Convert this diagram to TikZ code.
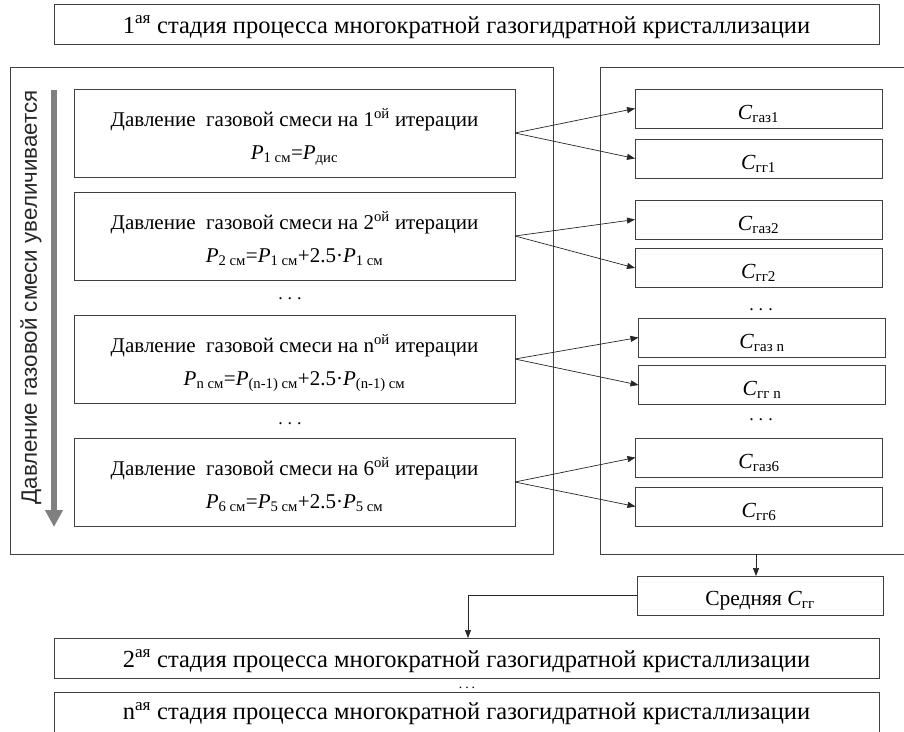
\documentclass[tikz,border=0pt]{standalone}
\usepackage{fontspec}
\setmainfont{Liberation Serif}
\newfontfamily\arialf{Liberation Sans}
\usetikzlibrary{arrows.meta,calc}
\newcommand\mysub[1]{\textsubscript{#1}}
\newcommand\Pv{\textit{P}}
\newcommand\Cv{\textit{C}}
\newcommand\spdots{.\hspace{5pt}.\hspace{5pt}.}
\begin{document}
\begin{tikzpicture}[x=1pt,y=-1pt,
  every node/.style={inner sep=0pt,outer sep=0pt},
  frame/.style={draw=black!75,line width=0.8pt},
  stagebox/.style={frame,minimum width=825pt,minimum height=40pt},
  stagetext/.style={anchor=base,font=\fontsize{24.5}{26}\selectfont},
  pbox/.style={frame,minimum width=441pt,minimum height=88pt},
  ptext/.style={anchor=base,font=\fontsize{21}{24}\selectfont},
  cbox/.style={frame,minimum width=247pt,minimum height=39pt},
  ctext/.style={anchor=base,font=\fontsize{21.5}{24}\selectfont},
  conn/.style={draw=black!85,line width=0.7pt,-{Triangle[length=8pt,width=6pt]}},
  dotsn/.style={anchor=base,font=\fontsize{18}{18}\selectfont,text height=3pt,text depth=0pt},
]
\useasboundingbox (0,0) rectangle (904,731);
\clip (0,0) rectangle (904,731);
% top stage
\node[stagebox] (s1) at (466.5,24) {};
\node[stagetext] (s1t) at ($(s1.center)+(0,9)$) {1\textsuperscript{ая} стадия процесса многократной газогидратной кристаллизации};
% outer frames
\node[frame,minimum width=543pt,minimum height=487pt] (outL) at (281.5,310.5) {};
\node[frame,minimum width=320pt,minimum height=487pt] (outR) at (760,310.5) {};
% vertical label and arrow
\node[rotate=90,font=\arialf\fontsize{22.3}{24}\selectfont,text=black!85] (vt) at (31,297.5) {Давление газовой смеси увеличивается};
\coordinate (ga) at (54,90);
\coordinate (gb) at (54,527);
\draw[line width=6.5pt,draw=black!50,-{Triangle[length=17pt,width=17pt]}] (ga) -- (gb);
% pressure boxes
\node[pbox] (b1) at (294.5,133) {};
\node[ptext] (b1a) at ($(b1.center)+(0,-7)$) {Давление\ \ газовой смеси на 1\textsuperscript{ой} итерации};
\node[ptext] (b1b) at ($(b1.center)+(0,26)$) {\Pv\mysub{1 см}=\Pv\mysub{дис}};
\node[pbox] (b2) at (294.5,236) {};
\node[ptext] (b2a) at ($(b2.center)+(0,-7)$) {Давление\ \ газовой смеси на 2\textsuperscript{ой} итерации};
\node[ptext] (b2b) at ($(b2.center)+(0,26)$) {\Pv\mysub{2 см}=\Pv\mysub{1 см}+2.5·\Pv\mysub{1 см}};
\node[pbox] (bn) at (294.5,359) {};
\node[ptext] (bna) at ($(bn.center)+(0,-7)$) {Давление\ \ газовой смеси на n\textsuperscript{ой} итерации};
\node[ptext] (bnb) at ($(bn.center)+(0,26)$) {\Pv\mysub{n см}=\Pv\mysub{(n-1) см}+2.5·\Pv\mysub{(n-1) см}};
\node[pbox] (b6) at (294.5,482) {};
\node[ptext] (b6a) at ($(b6.center)+(0,-7)$) {Давление\ \ газовой смеси на 6\textsuperscript{ой} итерации};
\node[ptext] (b6b) at ($(b6.center)+(0,26)$) {\Pv\mysub{6 см}=\Pv\mysub{5 см}+2.5·\Pv\mysub{5 см}};
\node[dotsn] (dl1) at (290,299) {\spdots};
\node[dotsn] (dl2) at (290,424) {\spdots};
% concentration boxes
\node[cbox] (g1) at (758.5,108.5) {};
\node[ctext] (g1t) at ($(g1.center)+(0,10.5)$) {\Cv\mysub{газ1}};
\node[cbox] (h1) at (758.5,158.5) {};
\node[ctext] (h1t) at ($(h1.center)+(0,10.5)$) {\Cv\mysub{гг1}};
\node[cbox] (g2) at (758.5,219.5) {};
\node[ctext] (g2t) at ($(g2.center)+(0,10.5)$) {\Cv\mysub{газ2}};
\node[cbox] (h2) at (758.5,268) {};
\node[ctext] (h2t) at ($(h2.center)+(0,10.5)$) {\Cv\mysub{гг2}};
\node[cbox] (gn) at (762,337.5) {};
\node[ctext] (gnt) at ($(gn.center)+(0,10.5)$) {\Cv\mysub{газ n}};
\node[cbox] (hn) at (762,385) {};
\node[ctext] (hnt) at ($(hn.center)+(0,10.5)$) {\Cv\mysub{гг n}};
\node[cbox] (g6) at (759,457.5) {};
\node[ctext] (g6t) at ($(g6.center)+(0,10.5)$) {\Cv\mysub{газ6}};
\node[cbox] (h6) at (759,506.5) {};
\node[ctext] (h6t) at ($(h6.center)+(0,10.5)$) {\Cv\mysub{гг6}};
\node[dotsn] (dr1) at (761,310) {\spdots};
\node[dotsn] (dr2) at (761,420) {\spdots};
% connectors
\draw[conn] (b1.east) -- (g1.west);
\draw[conn] (b1.east) -- (h1.west);
\draw[conn] (b2.east) -- (g2.west);
\draw[conn] (b2.east) -- (h2.west);
\draw[conn] (bn.east) -- (gn.west);
\draw[conn] (bn.east) -- (hn.west);
\draw[conn] (b6.east) -- (g6.west);
\draw[conn] (b6.east) -- (h6.west);
% average
\node[frame,minimum width=246pt,minimum height=39pt] (avg) at (760,595.5) {};
\node[ctext] (avgt) at ($(avg.center)+(0,9.5)$) {Средняя \Cv\mysub{гг}};
\coordinate (m1) at (756,554);
\draw[conn] (m1) -- (m1 |- avg.north);
% lower stages
\node[stagebox] (s2) at (466.5,658) {};
\node[stagetext] (s2t) at ($(s2.center)+(0,9)$) {2\textsuperscript{ая} стадия процесса многократной газогидратной кристаллизации};
\node[anchor=base,font=\fontsize{14}{14}\selectfont,text height=3pt,text depth=0pt] (dd) at (467,688) {.\hspace{3pt}.\hspace{3pt}.};
\node[stagebox] (sn) at (466.5,712) {};
\node[stagetext] (snt) at ($(sn.center)+(0,7.5)$) {n\textsuperscript{ая} стадия процесса многократной газогидратной кристаллизации};
\coordinate (t2) at (468,0);
\draw[conn] (avg.west) -| (t2 |- s2.north);
\end{tikzpicture}
\end{document}
